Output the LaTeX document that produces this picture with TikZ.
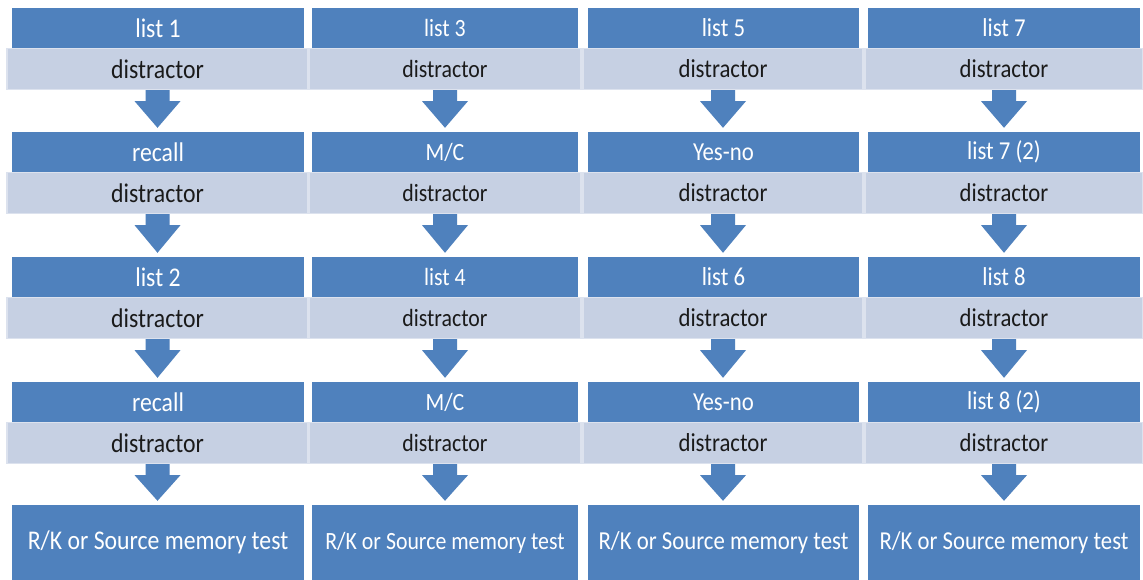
\documentclass[tikz,border=0pt]{standalone}
\usepackage{fontspec}
\setmainfont{Carlito}[FakeStretch=0.88]
\usetikzlibrary{calc}
\definecolor{hdrblue}{HTML}{4F81BD}
\definecolor{dstfill}{HTML}{C6D0E3}
\definecolor{dstedge}{HTML}{DCE2EE}
\definecolor{dsttext}{HTML}{1A1A1A}
\tikzset{
  hdr/.style={rectangle, fill=hdrblue, draw=none, text=white, inner sep=0pt,
    minimum height=40pt},
  dst/.style={rectangle, fill=dstfill, draw=dstedge, line width=1.2pt, text=dsttext,
    inner sep=0pt, minimum height=41pt},
  final/.style={rectangle, fill=hdrblue, draw=none, text=white, inner sep=0pt,
    minimum height=75pt},
  blockarrow/.style={fill=hdrblue, draw=none,
    to path={let \p1=(\tikztostart), \p2=(\tikztotarget) in
      (\x1-12pt,\y1) -- (\x1+12pt,\y1) -- (\x1+12pt,\y1-11pt) -- (\x1+23pt,\y1-11pt)
      -- (\x1,\y2+4pt) -- (\x1-23pt,\y1-11pt) -- (\x1-12pt,\y1-11pt) -- cycle}}
}
\begin{document}
\begin{tikzpicture}[x=1pt, y=-1pt]
\useasboundingbox (0,0) rectangle (1143,579);
\fill[white] (0,0) rectangle (1143,579);
\begin{scope}
\clip (0,0) rectangle (1143,579);
\foreach \c/\hl/\hr/\dl/\dr/\fs/\Ta/\Tb/\Tc/\Td in {
  1/12/304/7/308/27/list 1/recall/list 2/recall,
  2/312/578/309/581/24.8/list 3/{M/C}/list 4/{M/C},
  3/588/859/583/863/25.9/list 5/Yes-no/list 6/Yes-no,
  4/868/1140/865/1143/25.8/list 7/list 7 (2)/list 8/list 8 (2)}
{
  \pgfmathsetmacro{\hx}{(\hl+\hr)/2}
  \pgfmathsetmacro{\hw}{\hr-\hl}
  \pgfmathsetmacro{\dx}{(\dl+\dr)/2}
  \pgfmathsetmacro{\dw}{\dr-\dl}
  \begin{scope}[font=\fontsize{\fs}{\fs}\selectfont]
  % list / test header and its distractor, four rows per column
  \foreach \r/\yt/\t in {1/8/\Ta, 2/132/\Tb, 3/257/\Tc, 4/382/\Td}
  {
    \node[hdr, minimum width=\hw pt] (h\c\r) at (\hx,\yt+20) {\t};
    \node[dst, minimum width=\dw pt] (d\c\r) at (\dx,\yt+61) {distractor};
  }
  % final memory test
  \node[final, minimum width=\hw pt] (f\c) at (\hx,542.5) {R/K or Source memory test};
  \end{scope}
  % block arrows between the stages
  \foreach \r in {1,2,3}
  {
    \pgfmathtruncatemacro{\rn}{\r+1}
    \path[blockarrow] (d\c\r.south) to (h\c\rn.north);
  }
  \path[blockarrow] (d\c4.south) to (f\c.north);
}
\end{scope}
\end{tikzpicture}
\end{document}
